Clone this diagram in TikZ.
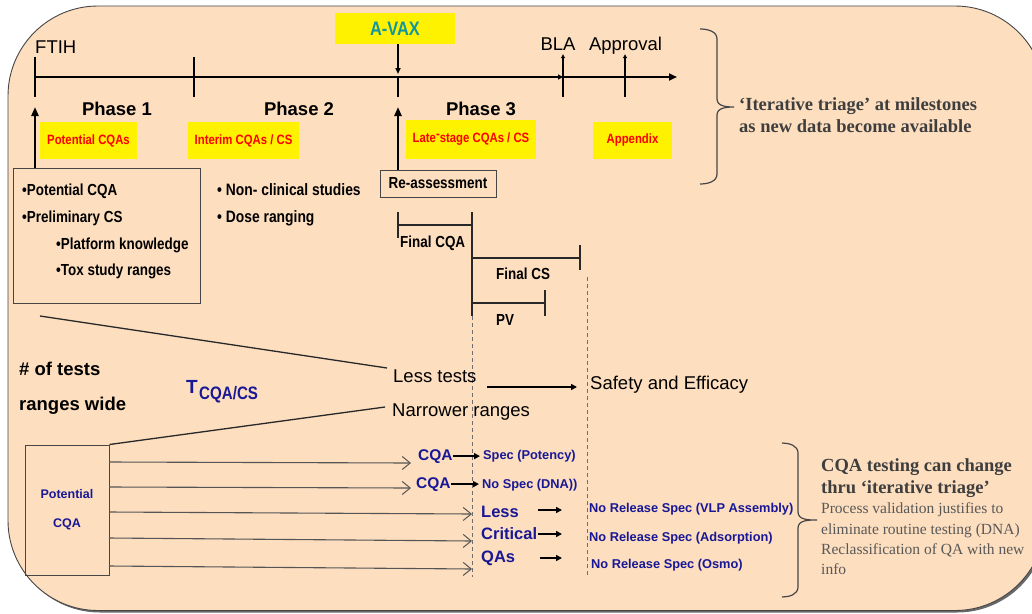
\documentclass[tikz,border=0pt]{standalone}
\usepackage{fontspec}
\setmainfont{Liberation Sans}
\newfontfamily\narrowsf[FakeStretch=0.84]{Liberation Sans}
\newfontfamily\notesf{Liberation Serif}
\usetikzlibrary{arrows.meta}
\definecolor{peach}{RGB}{253,222,191}
\definecolor{rimc}{RGB}{70,70,70}
\definecolor{shadowc}{RGB}{105,105,105}
\definecolor{navyb}{RGB}{24,24,150}
\definecolor{tealv}{RGB}{16,150,160}
\definecolor{notec}{RGB}{62,62,62}
\definecolor{bodyc}{RGB}{88,88,88}
\definecolor{linec}{RGB}{40,40,40}
\definecolor{feedc}{RGB}{85,85,85}
\definecolor{dashc}{RGB}{110,110,110}
\newcommand\pxsize[2]{\fontsize{#1}{#2}\selectfont}

\begin{document}
\begin{tikzpicture}[x=1pt,y=-1pt,
  txt/.style={inner sep=0, anchor=base west},
  txtc/.style={inner sep=0, anchor=base},
  phase/.style={txtc, font=\bfseries\pxsize{18.5}{22}},
  milestone/.style={txtc, font=\pxsize{18.5}{22}},
  tag/.style={fill=yellow, inner sep=0, text=red, font=\narrowsf\bfseries\pxsize{13.5}{16}},
  item/.style={txt, font=\narrowsf\bfseries\pxsize{16}{19}},
  plain/.style={txt, font=\pxsize{18.5}{22}},
  navytxt/.style={txt, text=navyb, font=\bfseries\pxsize{15.5}{18}},
  navysm/.style={txt, text=navyb, font=\bfseries\pxsize{12.8}{15}},
  axisline/.style={line width=2, draw=black},
  tick/.style={line width=1.6, draw=black},
  span/.style={line width=1.3, draw=linec},
  guide/.style={line width=0.9, draw=dashc, dash pattern=on 4pt off 3pt},
  feed/.style={line width=1.1, draw=feedc, -{Straight Barb[length=8,width=13,line width=1]}},
  shortarrow/.style={line width=1.8, -{Triangle[length=6,width=6]}},
  up/.style={line width=2.4, -{Triangle[length=9,width=7]}},
  note/.style={txt, text=notec, font=\notesf\bfseries\pxsize{18.5}{22}},
  body/.style={txt, text=bodyc, font=\notesf\pxsize{15.5}{20}},
  curly/.style={draw=rimc, line width=1.2},
  frameline/.style={draw=rimc, line width=1},
]
\useasboundingbox (0,0) rectangle (1032,613);
\clip (0,0) rectangle (1032,613);

% rounded backdrop with a soft drop shadow
\fill[shadowc, rounded corners=90] (10,8.5) rectangle (1047,612.5);
\draw[fill=peach, draw=rimc, line width=0.9, rounded corners=90] (8,6) rectangle (1045,610.5);

% ---------------- timeline ----------------
\coordinate (k0) at (35,77);
\coordinate (k1) at (194,77);
\coordinate (k2) at (398,77);
\coordinate (kb) at (563,77);
\coordinate (ka) at (625,77);
\coordinate (kend) at (677,77);
\draw[axisline, -{Triangle[length=5,width=5]}] (k0) -- (kb);
\draw[axisline, -{Triangle[length=8,width=7]}] (kb) -- (kend);
\draw[tick] (35,57) -- (35,97);
\draw[tick] (194,57) -- (194,97);
\draw[tick] (398,77) -- (398,97);
\draw[tick, -{Latex[length=4,width=4.5]}] (563,97) -- (563,54);
\draw[tick, -{Latex[length=4,width=4.5]}] (625,97) -- (625,54);

\node[fill=yellow, minimum width=120, minimum height=31, inner sep=0, text=tealv,
      font=\narrowsf\bfseries\pxsize{19.5}{22}] (avax) at (395,28.5) {A-VAX};
\coordinate (k2top) at (398,74);
\draw[tick, -{Triangle[length=6,width=5]}] (avax.south -| k2) -- (k2top);

\node[txt, font=\pxsize{18.5}{22}] (ftih) at (35,53) {FTIH};
\node[milestone] (bla) at (558,50) {BLA};
\node[milestone] (appr) at (625.5,50) {Approval};

\node[phase] (ph1) at (117,115) {Phase 1};
\node[phase] (ph2) at (299,115) {Phase 2};
\node[phase] (ph3) at (481,115) {Phase 3};

\node[tag, minimum width=97, minimum height=37] (tg1) at (88.5,140.5) {Potential CQAs};
\node[tag, minimum width=111, minimum height=37] (tg2) at (243.5,140.5) {Interim CQAs / CS};
\node[tag, minimum width=130, minimum height=39] (tg3) at (471,139.5) {Late\raisebox{4pt}{-}stage CQAs / CS};
\node[tag, minimum width=79, minimum height=37] (tg4) at (632.5,140.5) {Appendix};

% ---------------- phase 1 / 2 content ----------------
\node[frameline, minimum width=187, minimum height=135, inner sep=0] (p1box) at (106.5,235.5) {};
\node[item] (i1) at (22,195) {•Potential CQA};
\node[item] (i2) at (22,222) {•Preliminary CS};
\node[item] (i3) at (56,249) {•Platform knowledge};
\node[item] (i4) at (56,275) {•Tox study ranges};
\node[item, font=\narrowsf\bfseries\pxsize{16.5}{19}] (n1) at (217,195) {• Non- clinical studies};
\node[item, font=\narrowsf\bfseries\pxsize{16.5}{19}] (n2) at (217,222) {• Dose ranging};

\coordinate (u0) at (35,107);
\draw[up] (p1box.north -| k0) -- (u0);

\node[frameline, minimum width=116, minimum height=27, inner sep=0,
      font=\narrowsf\bfseries\pxsize{16}{19}] (reas) at (438,183.5) {Re-assessment};
\coordinate (u2) at (398,107);
\draw[up] (reas.north -| k2) -- (u2);

% ---------------- phase 3 spans ----------------
\draw[span] (398,212) -- (398,238);
\draw[span] (398,225) -- (472,225);
\draw[span] (472,212) -- (472,316);
\draw[span] (472,258) -- (580,258);
\draw[span] (580,245) -- (580,270);
\draw[span] (472,303) -- (545,303);
\draw[span] (545,290) -- (545,316);
\node[item] (fcqa) at (400,247) {Final CQA};
\node[item] (fcs) at (496,279) {Final CS};
\node[item] (pv) at (496,325) {PV};

\draw[guide] (472,316) -- (472,577);
\draw[guide] (587,277) -- (587,577);

% ---------------- funnel ----------------
\node[plain] (less) at (393,382) {Less tests};
\node[plain] (narrow) at (392,416) {Narrower ranges};
\node[plain] (safe) at (590,389) {Safety and Efficacy};
\node[txt, font=\bfseries\pxsize{18.5}{22}] (ntests) at (19,375) {\# of tests};
\node[txt, font=\bfseries\pxsize{18.5}{22}] (wide) at (19,410) {ranges wide};
\node[txt, text=navyb, font=\bfseries\pxsize{19}{22}] (tsym) at (186,393) {T};
\node[txt, text=navyb, font=\narrowsf\bfseries\pxsize{18}{20}] (tsub) at (199,399) {CQA/CS};

\node[frameline, minimum width=84, minimum height=130, inner sep=0, align=center,
      text=navyb, font=\bfseries\pxsize{12.5}{29}] (pcqa) at (67,510) {Potential\\CQA};

\coordinate (s0) at (40,316);
\coordinate (e1) at (387,368);
\coordinate (e2) at (385,407);
\draw[span] (s0) -- (e1);
\draw[span] (pcqa.north east) -- (e2);
\coordinate (a1) at (487,387);
\coordinate (a2) at (577,387);
\draw[shortarrow, line width=2.2] (a1) -- (a2);

% ---------------- outcomes ----------------
\node[navytxt] (c1) at (418,460) {CQA};
\node[navytxt] (c2) at (416,488) {CQA};
\node[navysm] (sp1) at (483,459) {Spec (Potency)};
\node[navysm] (sp2) at (482,488) {No Spec (DNA))};
\node[navytxt, font=\bfseries\pxsize{16.5}{19}] (q1) at (481,517) {Less};
\node[navytxt, font=\bfseries\pxsize{16.5}{19}] (q2) at (481,539) {Critical};
\node[navytxt, font=\bfseries\pxsize{16.5}{19}] (q3) at (481,562) {QAs};
\node[navysm] (r1) at (589,512) {No Release Spec (VLP Assembly)};
\node[navysm] (r2) at (589,541) {No Release Spec (Adsorption)};
\node[navysm] (r3) at (591,568) {No Release Spec (Osmo)};

\draw[shortarrow, shorten >=3pt] (c1.east) -- (c1.east -| sp1.west);
\draw[shortarrow, shorten >=3pt] (c2.east) -- (c2.east -| sp2.west);
\coordinate (m1) at (538,510); \coordinate (n1e) at (562,510);
\coordinate (m2) at (538,534); \coordinate (n2e) at (562,534);
\coordinate (m3) at (540,558); \coordinate (n3e) at (562,558);
\draw[shortarrow] (m1) -- (n1e);
\draw[shortarrow] (m2) -- (n2e);
\draw[shortarrow] (m3) -- (n3e);

\coordinate (fs1) at (109,462); \coordinate (fe1) at (411,463);
\coordinate (fs2) at (109,487); \coordinate (fe2) at (411,488);
\coordinate (fs3) at (109,512); \coordinate (fe3) at (472,514);
\coordinate (fs4) at (109,538); \coordinate (fe4) at (472,541);
\coordinate (fs5) at (109,566); \coordinate (fe5) at (472,569);
\foreach \i in {1,...,5} \draw[feed] (fs\i) -- (fe\i);

% ---------------- side notes ----------------
% square-shouldered braces: short hooks at the ends, straight spine, pointed middle
\draw[curly] (700,29) to[out=0,in=90] (717,39) -- (717,99)
  to[out=-90,in=180] (734,107) to[out=180,in=90] (717,115) -- (717,174)
  to[out=-90,in=0] (700,184);
\node[note] (tri1) at (739,110) {‘Iterative triage’ at milestones};
\node[note] (tri2) at (739,132) {as new data become available};

\draw[curly] (782,443) to[out=0,in=90] (798,453) -- (798,512)
  to[out=-90,in=180] (817,520) to[out=180,in=90] (798,528) -- (798,587)
  to[out=-90,in=0] (782,597);
\node[note] (cq1) at (821,471) {CQA testing can change};
\node[note] (cq2) at (821,493) {thru ‘iterative triage’};
\node[body] (b1) at (821,513) {Process validation justifies to};
\node[body] (b2) at (821,534) {eliminate routine testing (DNA)};
\node[body] (b3) at (821,554) {Reclassification of QA with new};
\node[body] (b4) at (821,574) {info};
\end{tikzpicture}
\end{document}
